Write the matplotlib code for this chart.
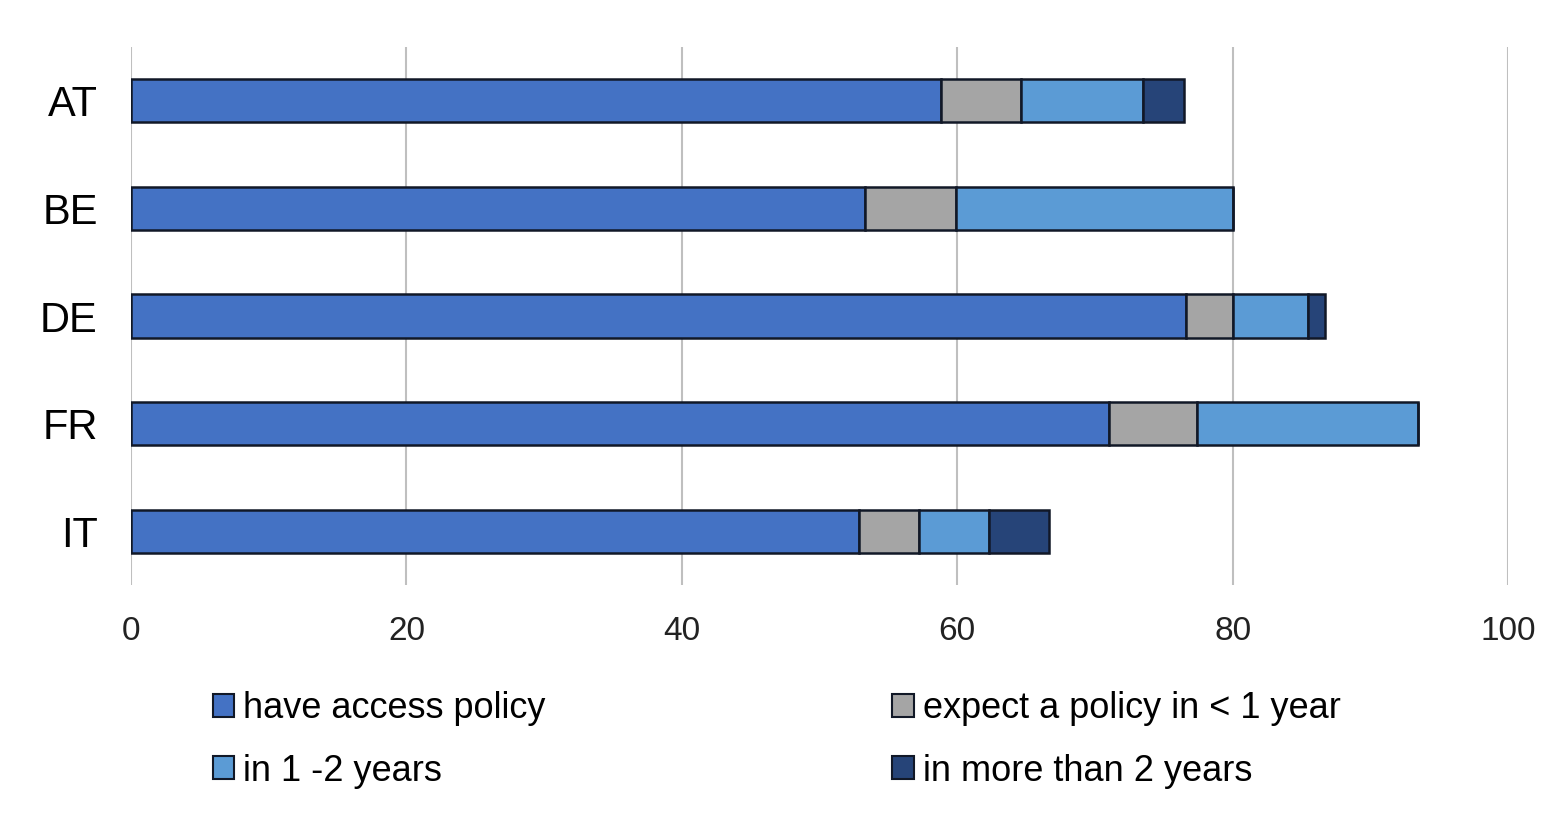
import matplotlib
matplotlib.use("Agg")
import matplotlib.pyplot as plt
from matplotlib.patches import Patch
import numpy as np

countries = ["AT", "BE", "DE", "FR", "IT"]
have_access = [58.8, 53.3, 76.6, 71.0, 52.9]
expect_lt1 = [5.8, 6.6, 3.4, 6.4, 4.3]
in_1_2 = [8.9, 20.1, 5.5, 16.1, 5.1]
more_than_2 = [3.0, 0.0, 1.2, 0.0, 4.4]
series_labels = ["have access policy", "expect a policy in < 1 year",
                 "in 1 -2 years", "in more than 2 years"]
xticks = [0, 20, 40, 60, 80, 100]

colors = ["#4472C4", "#A5A5A5", "#5B9BD5", "#264478"]
plt.rcParams['font.family'] = ['Liberation Sans Narrow', 'Liberation Sans', 'DejaVu Sans']

fig = plt.figure(figsize=(15.52, 8.19), dpi=100)
ax = fig.add_axes([131/1552, 1 - 585/819, (1508-131)/1552, (585-47)/819])

y = np.arange(len(countries))
series = [have_access, expect_lt1, in_1_2, more_than_2]
left = np.zeros(len(countries))
for vals, col, lab in zip(series, colors, series_labels):
    v = np.array(vals)
    ax.barh(y, v, left=left, height=0.4, color=col, edgecolor="#111827",
            linewidth=1.8, label=lab, zorder=3)
    left += v

ax.set_xlim(0, 100)
ax.set_ylim(4.5, -0.5)
ax.set_xticks(xticks)
ax.set_xticklabels([str(t) for t in xticks], fontsize=24, color="#222222")
ax.set_yticks(y)
ax.set_yticklabels(countries, fontsize=30)
ax.tick_params(axis='both', length=0)
ax.tick_params(axis='x', pad=22)
ax.tick_params(axis='y', pad=24)
ax.grid(axis='x', color="#BFBFBF", linewidth=1.5, zorder=0)
for s in ax.spines.values():
    s.set_visible(False)

handles = [Patch(facecolor=c, edgecolor="#111827", linewidth=1.5) for c in colors]
order = [0, 2, 1, 3]
fig.legend([handles[i] for i in order], [series_labels[i] for i in order],
           ncol=2, loc='upper left', bbox_to_anchor=(180/1552, 1 - 659/819),
           frameon=False, fontsize=26, handlelength=0.6, handleheight=0.6,
           handletextpad=0.25, columnspacing=9.6, labelspacing=0.75)

fig.savefig("out.png", dpi=100, facecolor="white")
